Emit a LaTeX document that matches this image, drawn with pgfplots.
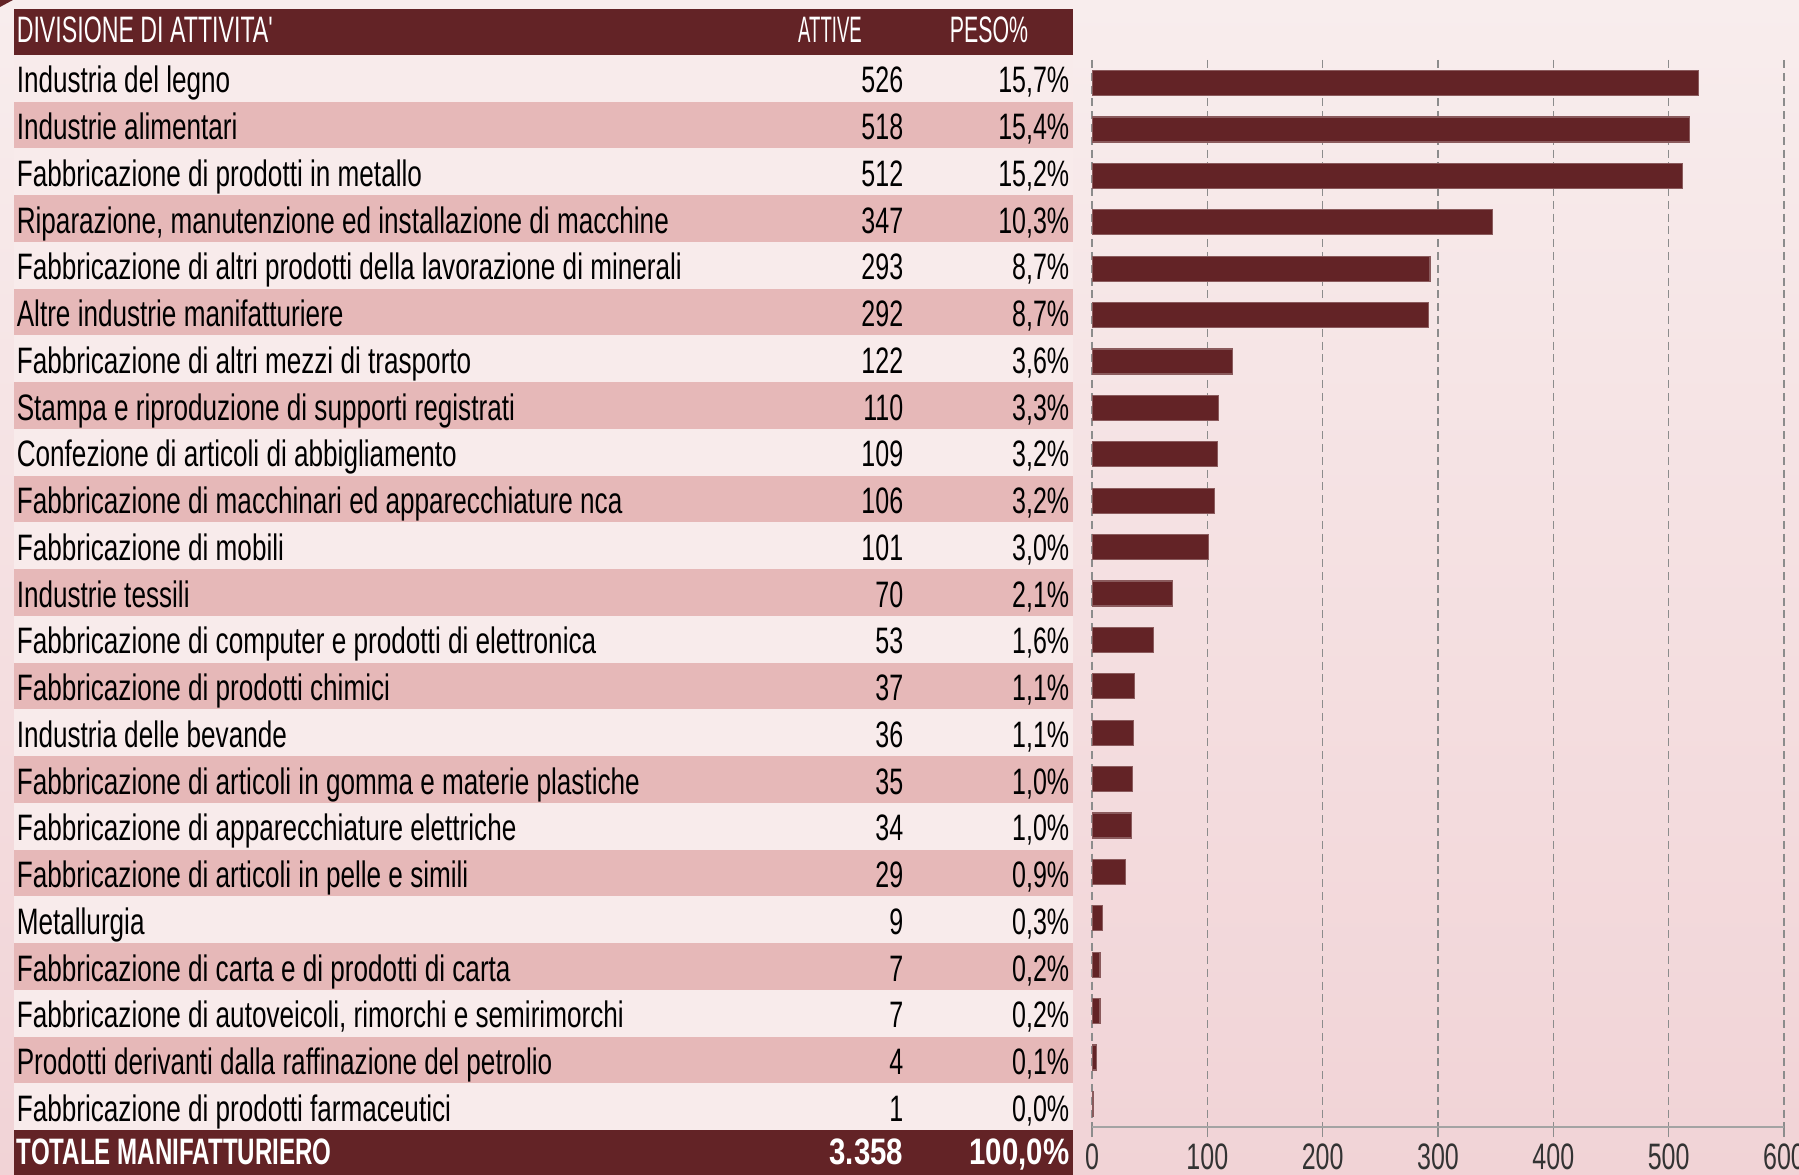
\documentclass[border=0pt]{standalone}
\usepackage{pgfplots}
\pgfplotsset{compat=1.18}
\usepackage{pgfplotstable}
\usepackage{fontspec}
\setmainfont{Liberation Sans}[FakeStretch=0.71]
\newfontfamily\numfont{Liberation Sans}[FakeStretch=0.68]
\newfontfamily\capsfont{Liberation Sans}[FakeStretch=0.63]
\newfontfamily\boldfont{Liberation Sans Bold}[FakeStretch=0.655]
\newfontfamily\boldnumfont{Liberation Sans Bold}[FakeStretch=0.8]
\definecolor{maroon}{HTML}{632326}
\definecolor{rowpink}{HTML}{E6B8B8}
\definecolor{rowlight}{HTML}{F8EBEB}
\definecolor{bgtop}{HTML}{F8EDED}
\definecolor{bgbot}{HTML}{F1D3D6}
\definecolor{gridgray}{HTML}{8C8C8C}

\pgfplotstableread{
idx val
1 526
2 518
3 512
4 347
5 293
6 292
7 122
8 110
9 109
10 106
11 101
12 70
13 53
14 37
15 36
16 35
17 34
18 29
19 9
20 7
21 7
22 4
23 1
}\bardata

\newcommand\rowfont{\fontsize{9.2}{11}\selectfont}

\begin{document}
\begin{tikzpicture}
\path[use as bounding box] (0pt,0pt) rectangle (449.75pt,293.75pt);
\clip (0pt,0pt) rectangle (449.75pt,293.75pt);
\begin{scope}[x=0.25pt,y=0.25pt]
\shade[top color=bgtop,bottom color=bgbot] (0,0) rectangle (1799,1175);
\fill[maroon] (0,1175) -- (13,1175) -- (0,1168) -- cycle;
% header
\fill[maroon] (14,1166) rectangle (1073,1120);
\node[anchor=base west,inner sep=0,text=white,font=\rowfont\capsfont] at (16,1132.5) {DIVISIONE DI ATTIVITA'};
\node[anchor=base,inner sep=0,text=white,font=\rowfont\capsfont] at (830,1132.5) {\scalebox{0.8}[1]{ATTIVE}};
\node[anchor=base,inner sep=0,text=white,font=\rowfont\capsfont] at (989,1132.5) {\scalebox{0.92}[1]{PESO\%}};
% rows
\foreach \k/\name/\nv/\pct in {
1/{Industria del legno}/526/{15,7\%},
2/{Industrie alimentari}/518/{15,4\%},
3/{Fabbricazione di prodotti in metallo}/512/{15,2\%},
4/{Riparazione, manutenzione ed installazione di macchine}/347/{10,3\%},
5/{Fabbricazione di altri prodotti della lavorazione di minerali}/293/{8,7\%},
6/{Altre industrie manifatturiere}/292/{8,7\%},
7/{Fabbricazione di altri mezzi di trasporto}/122/{3,6\%},
8/{Stampa e riproduzione di supporti registrati}/110/{3,3\%},
9/{Confezione di articoli di abbigliamento}/109/{3,2\%},
10/{Fabbricazione di macchinari ed apparecchiature nca}/106/{3,2\%},
11/{Fabbricazione di mobili}/101/{3,0\%},
12/{Industrie tessili}/70/{2,1\%},
13/{Fabbricazione di computer e prodotti di elettronica}/53/{1,6\%},
14/{Fabbricazione di prodotti chimici}/37/{1,1\%},
15/{Industria delle bevande}/36/{1,1\%},
16/{Fabbricazione di articoli in gomma e materie plastiche}/35/{1,0\%},
17/{Fabbricazione di apparecchiature elettriche}/34/{1,0\%},
18/{Fabbricazione di articoli in pelle e simili}/29/{0,9\%},
19/{Metallurgia}/9/{0,3\%},
20/{Fabbricazione di carta e di prodotti di carta}/7/{0,2\%},
21/{Fabbricazione di autoveicoli, rimorchi e semirimorchi}/7/{0,2\%},
22/{Prodotti derivanti dalla raffinazione del petrolio}/4/{0,1\%},
23/{Fabbricazione di prodotti farmaceutici}/1/{0,0\%}} {
  \pgfmathsetmacro\ytop{1120-(\k-1)*46.75}
  \pgfmathsetmacro\ybot{1120-\k*46.75}
  \pgfmathsetmacro\ybase{1120-(\k-0.5)*46.75-14.5}
  \ifodd\k
    \fill[rowlight] (14,\ytop) rectangle (1073,\ybot);
  \else
    \fill[rowpink] (14,\ytop) rectangle (1073,\ybot);
  \fi
  \node[anchor=base west,inner sep=0,font=\rowfont] at (16,\ybase) {\name};
  \node[anchor=base east,inner sep=0,font=\rowfont\numfont] at (904,\ybase) {\nv};
  \node[anchor=base east,inner sep=0,font=\rowfont\numfont] at (1070,\ybase) {\pct};
}
% total row
\fill[maroon] (14,44.75) rectangle (1073,-10);
\node[anchor=base west,inner sep=0,text=white,font=\rowfont\boldfont] at (16,10) {TOTALE MANIFATTURIERO};
\node[anchor=base east,inner sep=0,text=white,font=\rowfont\boldnumfont] at (904,10) {3.358};
\node[anchor=base east,inner sep=0,text=white,font=\rowfont\boldnumfont] at (1070,10) {100,0\%};
\end{scope}
% chart
\begin{axis}[
  at={(273pt,12pt)}, anchor=south west,
  scale only axis, width=173pt, height=266.75pt,
  xbar, bar width=6.25pt,
  xmin=0, xmax=600, ymin=0.5, ymax=23.5, y dir=reverse,
  axis x line*=bottom, axis y line=none,
  x axis line style={gridgray!80, line width=0.7pt},
  xtick={0,100,...,600}, ytick=\empty,
  xmajorgrids,
  major grid style={gridgray, line width=0.35pt, dash pattern=on 2pt off 1.2pt},
  tick align=outside, major tick length=2.5pt,
  tick style={gridgray, line width=0.4pt},
  /pgf/number format/assume math mode=true,
  xticklabel style={font=\rowfont\numfont, text=black!80, inner sep=0pt, yshift=-1.6pt},
]
\addplot[fill=maroon, draw=maroon!75!white, line width=0.3pt] table[x=val,y=idx]{\bardata};
\end{axis}
\end{tikzpicture}
\end{document}
